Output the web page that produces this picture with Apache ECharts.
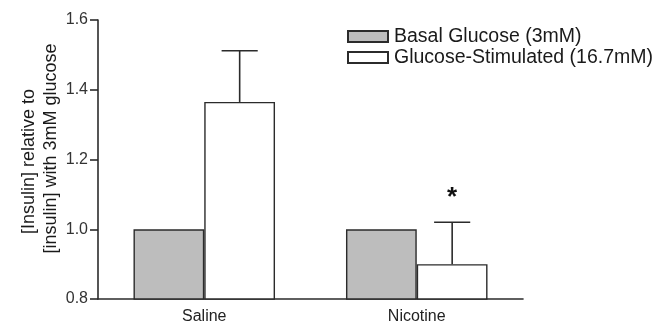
<!DOCTYPE html>
<html>
<head>
<meta charset="utf-8">
<script src="https://cdn.jsdelivr.net/npm/echarts@6/dist/echarts.min.js"></script>
<style>
  html, body { margin: 0; padding: 0; background: #fff; }
  #chart { width: 667px; height: 326px; }
</style>
</head>
<body>
<div id="chart"></div>
<script>
// Insulin secretion, normalised to 3 mM glucose
const categories = ['Saline', 'Nicotine'];
const seriesNames = ['Basal Glucose (3mM)', 'Glucose-Stimulated (16.7mM)'];
const basalValues = [1.0, 1.0];
const stimulatedValues = [1.365, 0.90];
const stimulatedErrors = [0.147, 0.12];
const significance = ['', '*'];
const yTicks = [0.8, 1.0, 1.2, 1.4, 1.6];
const yTitleLines = ['[Insulin] relative to', '[insulin] with 3mM glucose'];

const FONT = '"Liberation Sans", Arial, sans-serif';
const INK = '#2b2b2b';

const chart = echarts.init(document.getElementById('chart'), null, { renderer: 'canvas' });

// Error bar (upper whisker only) drawn over the stimulated bars
function renderError(params, api) {
  const idx = api.value(0);
  const top = api.value(1) + api.value(2);
  const base = api.coord([idx, api.value(1)]);
  const hi = api.coord([idx, top]);
  const bandW = api.size([1, 0])[0];
  const x = base[0] + bandW / 6;      // centre of the second bar in the group
  const half = bandW * 0.085;
  const style = { stroke: INK, lineWidth: 1.6 };
  return {
    type: 'group',
    children: [
      { type: 'line', shape: { x1: x, y1: base[1], x2: x, y2: hi[1] }, style },
      { type: 'line', shape: { x1: x - half, y1: hi[1], x2: x + half, y2: hi[1] }, style },
      {
        type: 'text',
        style: {
          text: significance[idx], x: x, y: hi[1] - 24,
          fill: '#111', font: 'bold 26px ' + FONT, align: 'center', verticalAlign: 'middle'
        }
      }
    ]
  };
}

const titleFont = { fontFamily: FONT, fontSize: 18, color: '#1a1a1a', lineHeight: 22 };

chart.setOption({
  animation: false,
  grid: { left: 98, right: 144, top: 20, bottom: 27, containLabel: false },
  legend: {
    orient: 'vertical',
    left: 342, top: 21,
    itemWidth: 40, itemHeight: 11, itemGap: 0,
    icon: 'rect',
    textStyle: { fontFamily: FONT, fontSize: 19.5, color: '#1a1a1a', lineHeight: 21, padding: [0, 0, 0, 1] },
    data: seriesNames
  },
  xAxis: {
    type: 'category',
    data: categories,
    axisLine: { lineStyle: { color: INK, width: 1.6 } },
    axisTick: { show: false },
    axisLabel: { fontFamily: FONT, fontSize: 16, color: '#222', margin: 10 }
  },
  yAxis: {
    type: 'value',
    min: 0.8, max: 1.6, interval: 0.2,
    name: '{a|' + yTitleLines[0] + '}\n{b|' + yTitleLines[1] + '}',
    nameLocation: 'middle',
    nameGap: 36,
    nameMoveOverlap: false,
    nameTextStyle: {
      ...titleFont,
      padding: [0, 0, 0, 22],
      rich: {
        a: { ...titleFont, padding: [0, 26, 0, 0] },
        b: { ...titleFont }
      }
    },
    axisLine: { show: true, lineStyle: { color: INK, width: 1.6 } },
    axisTick: { show: true, length: 8, lineStyle: { color: INK, width: 1.6 } },
    splitLine: { show: false },
    axisLabel: {
      fontFamily: FONT, fontSize: 16, color: '#333', margin: 10,
      formatter: v => v.toFixed(1)
    }
  },
  series: [
    {
      name: seriesNames[0], type: 'bar', data: basalValues,
      barWidth: '33.3%', barGap: '0%',
      itemStyle: { color: '#bdbdbd', borderColor: INK, borderWidth: 1.4 }
    },
    {
      name: seriesNames[1], type: 'bar', data: stimulatedValues,
      barWidth: '33.3%', barGap: '0%',
      itemStyle: { color: '#ffffff', borderColor: INK, borderWidth: 1.4 }
    },
    {
      type: 'custom',
      renderItem: renderError,
      data: categories.map((c, i) => [i, stimulatedValues[i], stimulatedErrors[i]]),
      encode: { x: 0, y: 1 },
      z: 5,
      silent: true
    }
  ]
});
</script>
</body>
</html>
